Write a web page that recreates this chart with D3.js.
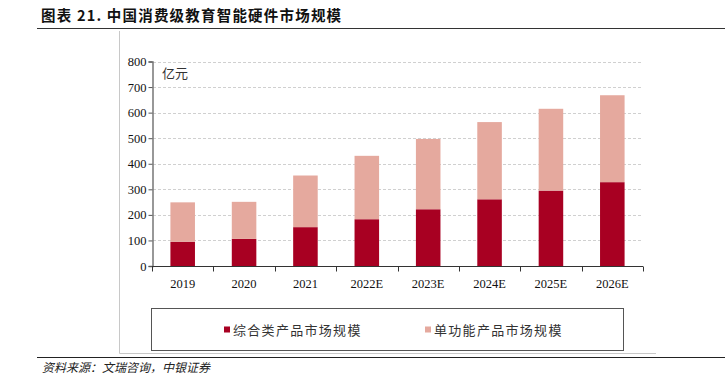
<!DOCTYPE html>
<html>
<head>
<meta charset="utf-8">
<script src="https://cdn.jsdelivr.net/npm/d3@7"></script>
<style>
  body { margin: 0; background: #fff; }
  svg { display: block; }
</style>
</head>
<body>
<div id="chart"></div>
<script>
// Data (亿元)
const years = ["2019", "2020", "2021", "2022E", "2023E", "2024E", "2025E", "2026E"];
const comprehensive = [95, 106, 152, 183, 222, 261, 295, 328];   // 综合类产品市场规模
const singleFunc = [154, 145, 202, 248, 275, 302, 320, 340];     // 单功能产品市场规模
const seriesNames = ["综合类产品市场规模", "单功能产品市场规模"];
const yTicks = [0, 100, 200, 300, 400, 500, 600, 700, 800];

const width = 725, height = 378;
const colors = ["#a80022", "#e5a99e"];
const cjk = "'Noto Sans CJK SC', sans-serif";
const serif = "'Liberation Serif', 'DejaVu Serif', serif";

const svg = d3.select("#chart").append("svg")
    .attr("width", width)
    .attr("height", height);

// Title
svg.append("text")
    .attr("x", 41)
    .attr("y", 21)
    .attr("font-family", cjk)
    .attr("font-weight", "bold")
    .attr("font-size", 14.5)
    .attr("letter-spacing", 1.2)
    .attr("fill", "#111")
    .text("图表 21. 中国消费级教育智能硬件市场规模");

svg.append("line")
    .attr("x1", 37).attr("x2", width)
    .attr("y1", 28.5).attr("y2", 28.5)
    .attr("stroke", "#333").attr("stroke-width", 1);

// outer chart frame (light grey left + bottom)
svg.append("path")
    .attr("d", "M119.5,31V353.5H656")
    .attr("fill", "none")
    .attr("stroke", "#c8c8c8");

// Plot scales
const x = d3.scaleBand().domain(years).range([152, 643]).paddingInner(0.6).paddingOuter(0.3);
const xTicks = d3.scaleLinear().domain([0, years.length]).range([152, 643]);
const y = d3.scaleLinear().domain([0, 800]).range([266, 61.5]);

// Grid
svg.append("g")
    .selectAll("line")
    .data(yTicks.filter(d => d > 0))
    .join("line")
    .attr("x1", 153).attr("x2", 643)
    .attr("y1", d => Math.round(y(d)) + 0.5)
    .attr("y2", d => Math.round(y(d)) + 0.5)
    .attr("stroke", "#d0d0d0")
    .attr("stroke-dasharray", "3,2");

// Stacked bars
const table = years.map((yr, i) => ({ year: yr, a: comprehensive[i], b: singleFunc[i] }));
const stacked = d3.stack().keys(["a", "b"])(table);

svg.append("g")
    .selectAll("g")
    .data(stacked)
    .join("g")
    .attr("fill", (d, i) => colors[i])
    .selectAll("rect")
    .data(d => d)
    .join("rect")
    .attr("x", d => x(d.data.year))
    .attr("y", d => y(d[1]))
    .attr("width", x.bandwidth())
    .attr("height", d => y(d[0]) - y(d[1]));

// Y axis
const yAxis = svg.append("g")
    .attr("transform", "translate(152.5,0)")
    .call(d3.axisLeft(y).tickValues(yTicks).tickSize(4).tickFormat(d3.format("d")));
yAxis.select(".domain").attr("stroke", "#777").attr("stroke-width", 1.5);
yAxis.selectAll(".tick line").attr("stroke", "#555");
yAxis.selectAll("text")
    .attr("font-family", serif)
    .attr("font-size", 12.5)
    .attr("fill", "#111")
    .attr("x", -6);

// X axis
const xAxis = svg.append("g")
    .attr("transform", "translate(0,266.5)");
xAxis.append("line")
    .attr("x1", 152).attr("x2", 643)
    .attr("stroke", "#333");
xAxis.selectAll(".tk")
    .data(d3.range(0, years.length + 1))
    .join("line")
    .attr("class", "tk")
    .attr("x1", d => Math.round(xTicks(d)) + 0.5)
    .attr("x2", d => Math.round(xTicks(d)) + 0.5)
    .attr("y1", 0).attr("y2", 5)
    .attr("stroke", "#333");
xAxis.selectAll("text")
    .data(years)
    .join("text")
    .attr("x", d => x(d) + x.bandwidth() / 2)
    .attr("y", 21)
    .attr("text-anchor", "middle")
    .attr("font-family", serif)
    .attr("font-size", 12.5)
    .attr("fill", "#111")
    .text(d => d);

// Unit label
svg.append("text")
    .attr("x", 162)
    .attr("y", 78)
    .attr("font-family", cjk)
    .attr("font-size", 13)
    .attr("fill", "#333")
    .text("亿元");

// Legend
svg.append("rect")
    .attr("x", 151.5).attr("y", 308.5)
    .attr("width", 472).attr("height", 42)
    .attr("fill", "none")
    .attr("stroke", "#555");

const legendX = [224, 425];
const legend = svg.append("g")
    .selectAll("g")
    .data(seriesNames)
    .join("g")
    .attr("transform", (d, i) => `translate(${legendX[i]},330)`);
legend.append("rect")
    .attr("x", 0).attr("y", -3.5)
    .attr("width", 6).attr("height", 6)
    .attr("fill", (d, i) => colors[i]);
legend.append("text")
    .attr("x", 9)
    .attr("y", 4.5)
    .attr("font-family", cjk)
    .attr("font-size", 13)
    .attr("letter-spacing", 1.3)
    .attr("fill", "#333")
    .text(d => d);

// Footer
svg.append("line")
    .attr("x1", 37).attr("x2", width)
    .attr("y1", 357.5).attr("y2", 357.5)
    .attr("stroke", "#222");

svg.append("text")
    .attr("x", 42)
    .attr("y", 372)
    .attr("font-family", cjk)
    .attr("font-style", "italic")
    .attr("font-size", 12)
    .attr("fill", "#222")
    .text("资料来源：文瑞咨询，中银证券");
</script>
</body>
</html>
